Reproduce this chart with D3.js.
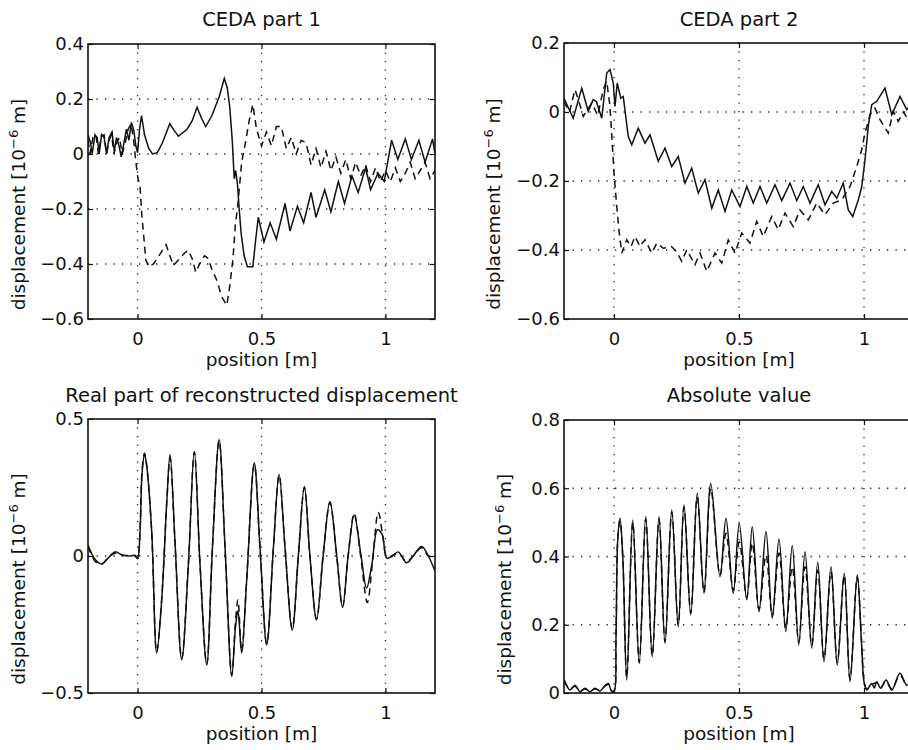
<!DOCTYPE html>
<html>
<head>
<meta charset="utf-8">
<script src="https://cdn.jsdelivr.net/npm/d3@7"></script>
<style>
body { margin: 0; background: #fff; }
text { font-family: "DejaVu Sans", sans-serif; fill: #111; }
</style>
</head>
<body>
<div id="fig"></div>
<script>
var titles = ["CEDA part 1", "CEDA part 2", "Real part of reconstructed displacement", "Absolute value"];
var xLabel = "position [m]";
var xTicks = [0, 0.5, 1];
var xDomain = [-0.2, 1.2];

var ceda1YTicks = [-0.6, -0.4, -0.2, 0, 0.2, 0.4];
var ceda2YTicks = [-0.6, -0.4, -0.2, 0, 0.2];
var realYTicks = [-0.5, 0, 0.5];
var absYTicks = [0, 0.2, 0.4, 0.6, 0.8];

// [position, displacement]
var ceda1Solid = [[-0.2,0.07],[-0.19,0.04],[-0.183,0.0],[-0.172,0.07],[-0.163,0.06],[-0.155,0.0],[-0.145,0.07],[-0.135,0.06],[-0.125,0.0],[-0.115,0.06],[-0.103,0.08],[-0.094,0.01],[-0.085,0.06],[-0.075,0.03],[-0.066,-0.01],[-0.055,0.04],[-0.045,0.09],[-0.035,0.05],[-0.025,0.115],[-0.015,0.085],[-0.007,0.03],[0.0,0.005],[0.008,0.09],[0.016,0.14],[0.028,0.07],[0.045,0.02],[0.06,0.0],[0.08,0.005],[0.1,0.04],[0.13,0.11],[0.148,0.085],[0.165,0.065],[0.2,0.09],[0.22,0.12],[0.24,0.17],[0.258,0.13],[0.275,0.1],[0.3,0.14],[0.33,0.21],[0.35,0.275],[0.362,0.24],[0.372,0.17],[0.382,0.05],[0.39,-0.09],[0.396,-0.06],[0.403,-0.11],[0.41,-0.2],[0.418,-0.29],[0.43,-0.37],[0.443,-0.41],[0.465,-0.41],[0.478,-0.3],[0.487,-0.23],[0.51,-0.32],[0.535,-0.25],[0.56,-0.31],[0.595,-0.18],[0.615,-0.28],[0.645,-0.19],[0.67,-0.25],[0.7,-0.14],[0.72,-0.23],[0.755,-0.13],[0.78,-0.21],[0.81,-0.1],[0.835,-0.18],[0.865,-0.08],[0.89,-0.14],[0.92,-0.05],[0.94,-0.13],[0.97,-0.07],[0.995,-0.1],[1.025,0.05],[1.05,-0.02],[1.08,0.055],[1.105,-0.02],[1.135,0.05],[1.16,-0.03],[1.19,0.055],[1.2,0.0]];
var ceda1Dashed = [[-0.2,0.05],[-0.192,0.0],[-0.18,0.06],[-0.168,0.07],[-0.158,0.0],[-0.147,0.065],[-0.135,0.07],[-0.125,0.0],[-0.115,0.05],[-0.105,0.07],[-0.095,0.0],[-0.085,0.04],[-0.073,0.06],[-0.062,0.0],[-0.05,0.04],[-0.038,0.09],[-0.026,0.11],[-0.016,0.05],[-0.008,-0.02],[0.0,-0.08],[0.01,-0.12],[0.017,-0.22],[0.026,-0.31],[0.033,-0.385],[0.045,-0.41],[0.064,-0.4],[0.09,-0.365],[0.115,-0.33],[0.13,-0.37],[0.145,-0.405],[0.16,-0.39],[0.19,-0.36],[0.205,-0.35],[0.22,-0.38],[0.235,-0.43],[0.25,-0.4],[0.27,-0.37],[0.285,-0.38],[0.3,-0.42],[0.32,-0.46],[0.34,-0.52],[0.36,-0.55],[0.372,-0.48],[0.385,-0.38],[0.395,-0.25],[0.403,-0.2],[0.413,-0.1],[0.42,-0.03],[0.435,0.04],[0.45,0.12],[0.465,0.18],[0.48,0.09],[0.5,0.03],[0.52,0.08],[0.54,0.03],[0.56,0.1],[0.58,0.1],[0.6,0.02],[0.62,0.06],[0.64,0.0],[0.66,0.05],[0.68,0.04],[0.7,-0.04],[0.72,0.02],[0.74,-0.05],[0.76,0.01],[0.78,-0.06],[0.8,-0.01],[0.82,-0.07],[0.84,-0.02],[0.86,-0.09],[0.88,-0.03],[0.9,-0.08],[0.92,-0.04],[0.94,-0.1],[0.96,-0.05],[0.98,-0.1],[1.0,-0.06],[1.02,-0.1],[1.04,-0.05],[1.06,-0.1],[1.08,-0.07],[1.1,-0.03],[1.12,-0.09],[1.14,-0.06],[1.16,-0.03],[1.18,-0.09],[1.2,-0.06]];

var ceda2Solid = [[-0.2,0.04],[-0.163,-0.018],[-0.129,0.069],[-0.103,0.002],[-0.083,0.036],[-0.07,0.03],[-0.049,-0.018],[-0.029,0.113],[-0.016,0.123],[-0.003,0.084],[0.004,0.016],[0.013,0.084],[0.027,0.04],[0.037,0.045],[0.057,-0.071],[0.071,-0.095],[0.097,-0.047],[0.124,-0.09],[0.144,-0.066],[0.177,-0.143],[0.204,-0.105],[0.231,-0.158],[0.257,-0.129],[0.284,-0.206],[0.311,-0.163],[0.337,-0.235],[0.364,-0.196],[0.391,-0.279],[0.417,-0.226],[0.444,-0.288],[0.471,-0.226],[0.504,-0.274],[0.531,-0.216],[0.557,-0.264],[0.584,-0.216],[0.611,-0.264],[0.644,-0.211],[0.671,-0.257],[0.704,-0.206],[0.731,-0.257],[0.757,-0.216],[0.784,-0.264],[0.817,-0.211],[0.844,-0.269],[0.871,-0.23],[0.891,-0.25],[0.917,-0.206],[0.937,-0.284],[0.955,-0.303],[0.977,-0.255],[0.991,-0.216],[1.004,-0.139],[1.017,-0.042],[1.031,0.021],[1.051,0.031],[1.084,0.069],[1.111,-0.008],[1.144,0.045],[1.171,0.007],[1.2,0.03]];
var ceda2Dashed = [[-0.2,0.03],[-0.178,0.0],[-0.156,0.065],[-0.14,0.03],[-0.123,-0.013],[-0.089,0.026],[-0.065,-0.01],[-0.043,0.065],[-0.029,0.089],[-0.016,0.016],[-0.009,-0.066],[0.0,-0.177],[0.011,-0.274],[0.021,-0.351],[0.031,-0.409],[0.051,-0.37],[0.068,-0.39],[0.084,-0.361],[0.104,-0.39],[0.124,-0.37],[0.151,-0.409],[0.171,-0.38],[0.197,-0.395],[0.23,-0.39],[0.25,-0.405],[0.271,-0.433],[0.291,-0.4],[0.324,-0.443],[0.344,-0.409],[0.371,-0.462],[0.404,-0.409],[0.431,-0.438],[0.457,-0.371],[0.484,-0.409],[0.511,-0.351],[0.544,-0.38],[0.571,-0.317],[0.597,-0.361],[0.631,-0.303],[0.657,-0.341],[0.684,-0.293],[0.717,-0.332],[0.744,-0.284],[0.777,-0.313],[0.811,-0.264],[0.844,-0.298],[0.877,-0.264],[0.911,-0.255],[0.944,-0.216],[0.971,-0.158],[0.991,-0.109],[1.004,-0.061],[1.024,-0.008],[1.044,0.011],[1.064,-0.022],[1.097,-0.061],[1.117,0.002],[1.137,-0.027],[1.157,0.0],[1.177,-0.022],[1.2,-0.04]];

var realSolid = [[-0.2,0.04],[-0.171,-0.013],[-0.145,-0.029],[-0.118,-0.007],[-0.091,0.015],[-0.064,0.005],[-0.037,0.0],[-0.01,0.002],[0.0,-0.008],[0.01,0.09],[0.018,0.3],[0.028,0.37],[0.037,0.327],[0.057,0.09],[0.077,-0.354],[0.097,-0.166],[0.118,0.2],[0.131,0.37],[0.151,0.053],[0.178,-0.379],[0.205,-0.032],[0.229,0.382],[0.252,-0.032],[0.279,-0.397],[0.302,0.029],[0.329,0.424],[0.353,0.029],[0.38,-0.439],[0.395,-0.26],[0.405,-0.2],[0.42,-0.354],[0.44,-0.092],[0.471,0.339],[0.494,0.029],[0.521,-0.324],[0.548,0.029],[0.571,0.297],[0.595,0.029],[0.624,-0.27],[0.649,0.005],[0.673,0.254],[0.695,0.005],[0.722,-0.233],[0.749,0.005],[0.776,0.199],[0.803,0.005],[0.827,-0.188],[0.85,0.005],[0.874,0.15],[0.901,0.005],[0.924,-0.117],[0.945,-0.032],[0.968,0.096],[0.987,0.078],[1.005,-0.008],[1.025,-0.002],[1.052,0.015],[1.085,-0.025],[1.112,0.0],[1.146,0.035],[1.173,0.0],[1.2,-0.055]];
var realDashed = [[-0.2,0.035],[-0.171,-0.02],[-0.145,-0.03],[-0.118,-0.005],[-0.091,0.01],[-0.064,0.002],[-0.037,0.002],[-0.01,0.0],[0.0,-0.01],[0.01,0.1],[0.018,0.31],[0.028,0.375],[0.037,0.33],[0.057,0.085],[0.077,-0.35],[0.097,-0.16],[0.118,0.2],[0.131,0.36],[0.151,0.05],[0.178,-0.375],[0.205,-0.03],[0.229,0.38],[0.252,-0.03],[0.279,-0.395],[0.302,0.03],[0.329,0.42],[0.353,0.03],[0.38,-0.435],[0.395,-0.24],[0.405,-0.16],[0.42,-0.35],[0.44,-0.09],[0.471,0.335],[0.494,0.03],[0.521,-0.32],[0.548,0.03],[0.571,0.295],[0.595,0.03],[0.624,-0.265],[0.649,0.005],[0.673,0.25],[0.695,0.005],[0.722,-0.23],[0.749,0.005],[0.776,0.195],[0.803,0.005],[0.827,-0.185],[0.85,0.005],[0.874,0.155],[0.9,0.0],[0.927,-0.17],[0.948,-0.02],[0.971,0.16],[0.99,0.07],[1.005,0.0],[1.025,0.0],[1.052,0.01],[1.085,-0.02],[1.112,0.0],[1.146,0.03],[1.173,0.0],[1.2,0.0]];

var absSolid = [[-0.2,0.04],[-0.176,0.009],[-0.156,0.023],[-0.136,0.004],[-0.116,0.014],[-0.096,0.004],[-0.076,0.014],[-0.056,0.006],[-0.036,0.022],[-0.023,0.028],[-0.009,0.004],[0.0,0.004],[0.008,0.16],[0.015,0.45],[0.024,0.512],[0.035,0.4],[0.051,0.038],[0.075,0.507],[0.101,0.087],[0.127,0.517],[0.153,0.106],[0.18,0.517],[0.204,0.146],[0.231,0.536],[0.257,0.194],[0.28,0.551],[0.307,0.229],[0.333,0.585],[0.36,0.292],[0.387,0.614],[0.424,0.341],[0.448,0.512],[0.477,0.292],[0.501,0.497],[0.531,0.273],[0.553,0.487],[0.58,0.238],[0.608,0.473],[0.633,0.219],[0.66,0.451],[0.687,0.18],[0.713,0.432],[0.739,0.141],[0.764,0.414],[0.791,0.131],[0.815,0.383],[0.84,0.092],[0.868,0.37],[0.893,0.082],[0.921,0.351],[0.944,0.033],[0.973,0.346],[0.99,0.15],[1.0,0.033],[1.011,0.009],[1.031,0.028],[1.041,0.015],[1.051,0.033],[1.067,0.014],[1.088,0.038],[1.111,0.009],[1.144,0.058],[1.171,0.023],[1.2,0.05]];
var absDashed = [[-0.2,0.035],[-0.176,0.012],[-0.156,0.02],[-0.136,0.006],[-0.116,0.012],[-0.096,0.006],[-0.076,0.012],[-0.056,0.008],[-0.036,0.02],[-0.023,0.025],[-0.009,0.006],[0.0,0.006],[0.008,0.17],[0.015,0.45],[0.024,0.505],[0.035,0.4],[0.051,0.045],[0.075,0.5],[0.101,0.09],[0.127,0.51],[0.153,0.11],[0.18,0.51],[0.204,0.15],[0.231,0.53],[0.257,0.2],[0.28,0.545],[0.307,0.235],[0.333,0.575],[0.36,0.295],[0.387,0.6],[0.424,0.345],[0.448,0.468],[0.477,0.3],[0.501,0.443],[0.531,0.28],[0.553,0.44],[0.58,0.245],[0.608,0.404],[0.633,0.225],[0.66,0.41],[0.687,0.19],[0.713,0.37],[0.739,0.15],[0.764,0.37],[0.791,0.14],[0.815,0.36],[0.84,0.1],[0.868,0.355],[0.893,0.09],[0.921,0.345],[0.944,0.04],[0.973,0.34],[0.99,0.15],[1.0,0.04],[1.011,0.012],[1.031,0.025],[1.051,0.03],[1.067,0.016],[1.088,0.035],[1.111,0.012],[1.144,0.052],[1.171,0.025],[1.2,0.045]];

var panels = [
  {title: titles[0], yTicks: ceda1YTicks, solid: ceda1Solid, dashed: ceda1Dashed, curve: d3.curveLinear,
   left: 88, width: 347, top: 44, bottom: 319, titleY: 26, ylabX: 25},
  {title: titles[1], yTicks: ceda2YTicks, solid: ceda2Solid, dashed: ceda2Dashed, curve: d3.curveLinear,
   left: 564, width: 350, top: 43, bottom: 319, titleY: 26, ylabX: 500},
  {title: titles[2], yTicks: realYTicks, solid: realSolid, dashed: realDashed, curve: d3.curveCatmullRom,
   left: 88, width: 347, top: 419, bottom: 693, titleY: 402, ylabX: 25},
  {title: titles[3], yTicks: absYTicks, solid: absSolid, dashed: absDashed, curve: d3.curveCatmullRom,
   left: 564, width: 350, top: 420, bottom: 693, titleY: 402, ylabX: 511}
];

var svg = d3.select("#fig").append("svg")
  .attr("width", 908)
  .attr("height", 750)
  .style("background", "#fff");

var fmt = d3.format("");

function drawPanel(p, i) {
  var right = p.left + p.width;
  var x = d3.scaleLinear().domain(xDomain).range([p.left, right]);
  var y = d3.scaleLinear().domain(d3.extent(p.yTicks)).range([p.bottom, p.top]);
  var g = svg.append("g");

  // clip for the curves
  svg.append("clipPath").attr("id", "clip" + i)
    .append("rect")
    .attr("x", p.left).attr("y", p.top)
    .attr("width", p.width).attr("height", p.bottom - p.top);

  // dotted grid
  var grid = g.append("g")
    .attr("stroke", "#222")
    .attr("stroke-width", 1.3)
    .attr("stroke-dasharray", "1.3,7.2");
  grid.selectAll(".vg").data(xTicks).enter().append("line")
    .attr("x1", function(d) { return x(d); })
    .attr("x2", function(d) { return x(d); })
    .attr("y1", p.top).attr("y2", p.bottom);
  grid.selectAll(".hg").data(p.yTicks.slice(1, -1)).enter().append("line")
    .attr("y1", function(d) { return y(d); })
    .attr("y2", function(d) { return y(d); })
    .attr("x1", p.left).attr("x2", right);

  // curves
  var line = d3.line()
    .x(function(d) { return x(d[0]); })
    .y(function(d) { return y(d[1]); })
    .curve(p.curve);
  var lines = g.append("g").attr("clip-path", "url(#clip" + i + ")");
  lines.append("path").datum(p.dashed)
    .attr("d", line)
    .attr("fill", "none").attr("stroke", "#111")
    .attr("stroke-width", 1.5).attr("stroke-dasharray", "7,5");
  lines.append("path").datum(p.solid)
    .attr("d", line)
    .attr("fill", "none").attr("stroke", "#111")
    .attr("stroke-width", 1.5);

  // axes with inward ticks
  var ax = g.append("g").attr("transform", "translate(0," + p.bottom + ")")
    .call(d3.axisBottom(x).tickValues(xTicks).tickFormat(fmt).tickSize(-5).tickSizeOuter(0).tickPadding(13));
  var ay = g.append("g").attr("transform", "translate(" + p.left + ",0)")
    .call(d3.axisLeft(y).tickValues(p.yTicks).tickFormat(fmt).tickSize(-5).tickSizeOuter(0).tickPadding(4));
  var at = g.append("g").attr("transform", "translate(0," + p.top + ")")
    .call(d3.axisTop(x).tickValues(xTicks).tickFormat("").tickSize(-5).tickSizeOuter(0));
  var ar = g.append("g").attr("transform", "translate(" + right + ",0)")
    .call(d3.axisRight(y).tickValues(p.yTicks).tickFormat("").tickSize(-5).tickSizeOuter(0));
  [ax, ay, at, ar].forEach(function(a) {
    a.select(".domain").remove();
    a.attr("font-family", null).attr("font-size", 18);
    a.selectAll("line").attr("stroke", "#111").attr("stroke-width", 1.2);
  });

  // box
  g.append("rect")
    .attr("x", p.left).attr("y", p.top)
    .attr("width", p.width).attr("height", p.bottom - p.top)
    .attr("fill", "none").attr("stroke", "#111").attr("stroke-width", 1.6);

  var cx = (p.left + right) / 2;
  g.append("text")
    .attr("x", cx).attr("y", p.titleY)
    .attr("text-anchor", "middle")
    .attr("font-size", 19.5)
    .text(p.title);

  g.append("text")
    .attr("x", cx).attr("y", p.bottom + 47)
    .attr("text-anchor", "middle")
    .attr("font-size", 18.5)
    .text(xLabel);

  var yl = g.append("text")
    .attr("transform", "translate(" + p.ylabX + "," + ((p.top + p.bottom) / 2 + 23) + ") rotate(-90)")
    .attr("text-anchor", "middle")
    .attr("font-size", 18.5);
  yl.append("tspan").text("displacement [10");
  yl.append("tspan").attr("font-size", 13).attr("dy", -7).text("\u22126");
  yl.append("tspan").attr("dy", 7).text(" m]");
}

panels.forEach(drawPanel);
</script>
</body>
</html>
